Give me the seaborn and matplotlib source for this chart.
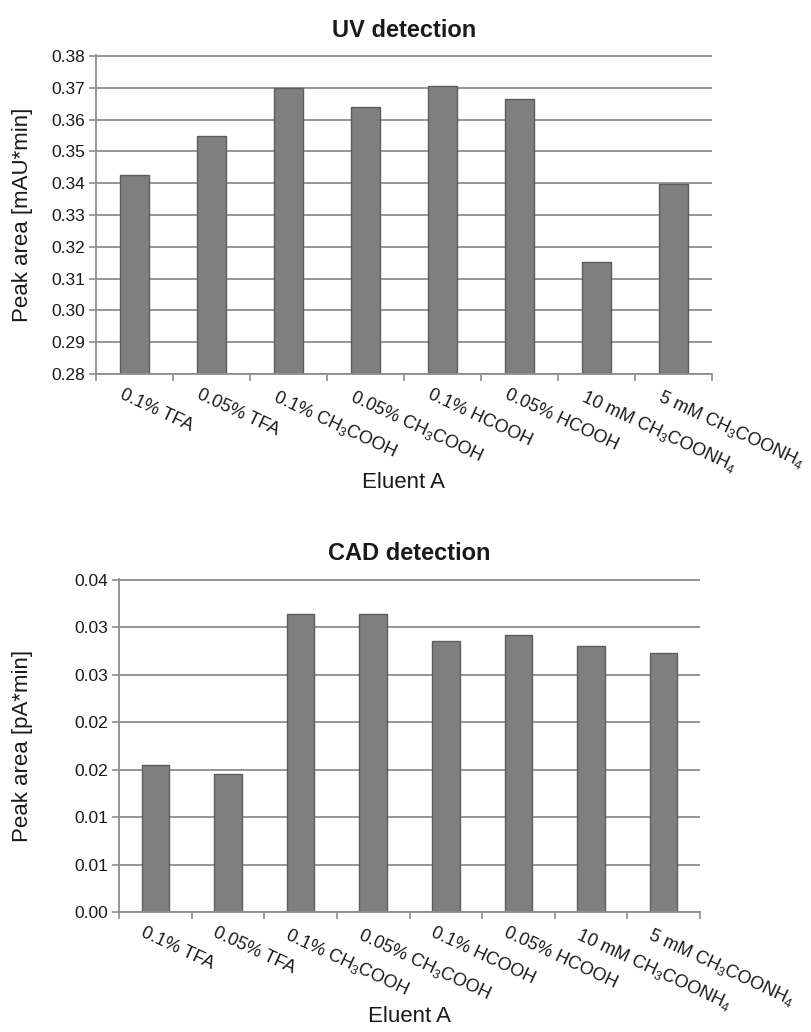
import matplotlib
matplotlib.use('Agg')
import matplotlib.pyplot as plt
import matplotlib.transforms as mtransforms
import seaborn as sns
import numpy as np

# Eluent A compositions (x categories, shared by both panels)
eluents = ['0.1% TFA', '0.05% TFA', '0.1% CH$_3$COOH', '0.05% CH$_3$COOH',
           '0.1% HCOOH', '0.05% HCOOH', '10 mM CH$_3$COONH$_4$', '5 mM CH$_3$COONH$_4$']

# Peak areas
uv_area = [0.3427, 0.3547, 0.3700, 0.3641, 0.3706, 0.3666, 0.3152, 0.3398]
cad_area = [0.01550, 0.01454, 0.03138, 0.03138, 0.02862, 0.02915, 0.02809, 0.02734]

# y ticks (CAD labels are rounded to two decimals as in the original)
uv_ticks = [0.28, 0.29, 0.30, 0.31, 0.32, 0.33, 0.34, 0.35, 0.36, 0.37, 0.38]
uv_tick_labels = ['0.28', '0.29', '0.30', '0.31', '0.32', '0.33', '0.34', '0.35', '0.36', '0.37', '0.38']
cad_ticks = [0.0, 0.005, 0.010, 0.015, 0.020, 0.025, 0.030, 0.035]
cad_tick_labels = ['0.00', '0.01', '0.01', '0.02', '0.02', '0.03', '0.03', '0.04']

sns.set_style('white')
plt.rcParams['font.family'] = ['Liberation Sans', 'DejaVu Sans']
plt.rcParams['mathtext.fontset'] = 'custom'
plt.rcParams['mathtext.rm'] = 'Liberation Sans'
plt.rcParams['mathtext.it'] = 'Liberation Sans:italic'
plt.rcParams['mathtext.bf'] = 'Liberation Sans:bold'

bar_color = '#7f7f7f'
edge_color = '#5c5c5c'
grid_color = '#8e8e8e'
text_color = '#1a1a1a'

fig = plt.figure(figsize=(8.11, 10.32), dpi=100)
ax_uv = fig.add_axes([96 / 811, 1 - 374 / 1032, 616 / 811, 319 / 1032])
ax_cad = fig.add_axes([119 / 811, 1 - 912 / 1032, 581 / 811, 333 / 1032])


def draw_panel(ax, values, title, ylabel, ticks, tick_labels, title_pad, ylabel_x, xlabel_y):
    sns.barplot(x=eluents, y=values, ax=ax, color=bar_color, saturation=1,
                width=0.38, edgecolor=edge_color, linewidth=1.0)
    span = ticks[-1] - ticks[0]
    ax.set_ylim(ticks[0], ticks[-1] + span * 0.003)
    ax.set_xlim(-0.5, len(eluents) - 0.5)
    ax.set_yticks(ticks)
    ax.set_yticklabels(tick_labels, fontsize=12.5, color=text_color)
    ax.yaxis.grid(True, color=grid_color, linewidth=1.3)
    ax.set_axisbelow(True)

    for side in ['top', 'right']:
        ax.spines[side].set_visible(False)
    for side in ['left', 'bottom']:
        ax.spines[side].set_color(grid_color)
        ax.spines[side].set_linewidth(1.3)

    ax.tick_params(axis='y', which='major', direction='out', length=5,
                   width=1.2, color=grid_color, pad=3, left=True)
    # tick marks between categories, labels at category centres
    ax.set_xticks(np.arange(-0.5, len(eluents), 1.0), minor=True)
    ax.tick_params(axis='x', which='minor', direction='out', length=5,
                   width=1.2, color=grid_color, bottom=True)
    ax.set_xticks(range(len(eluents)))
    ax.set_xticklabels(eluents, rotation=-25, ha='left', va='top',
                       rotation_mode='anchor', fontsize=13, color=text_color)
    ax.tick_params(axis='x', which='major', length=0, pad=9)
    shift = mtransforms.ScaledTranslation(-0.10, 0, fig.dpi_scale_trans)
    for lab in ax.get_xticklabels():
        lab.set_transform(lab.get_transform() + shift)

    ax.set_title(title, fontsize=17, fontweight='bold', color=text_color, pad=title_pad)
    ax.set_xlabel('Eluent A', fontsize=16, color=text_color)
    ax.xaxis.set_label_coords(0.5, xlabel_y)
    ax.set_ylabel(ylabel, fontsize=16, color=text_color)
    ax.yaxis.set_label_coords(ylabel_x, 0.5)


draw_panel(ax_uv, uv_area, 'UV detection', 'Peak area [mAU*min]',
           uv_ticks, uv_tick_labels, 13, -0.102, -0.307)
draw_panel(ax_cad, cad_area, 'CAD detection', 'Peak area [pA*min]',
           cad_ticks, cad_tick_labels, 14, -0.148, -0.282)

fig.savefig('out.png', dpi=100, facecolor='white')
